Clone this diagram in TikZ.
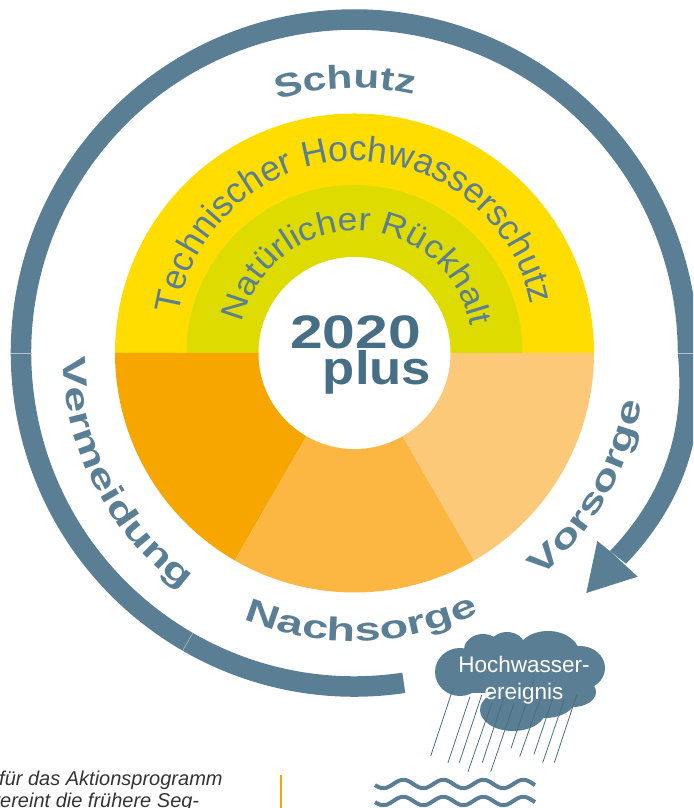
\documentclass[tikz,border=0pt]{standalone}
\usepackage{fontspec}
\setmainfont{Liberation Sans}
\newfontfamily\widefont[FakeStretch=1.42]{Liberation Sans}
\newfontfamily\schutzfont[FakeStretch=1.28]{Liberation Sans}
\newfontfamily\titlefont[FakeStretch=1.25]{Liberation Sans}
\newfontfamily\plusfont[FakeStretch=1.12]{Liberation Sans}
\newfontfamily\natfamily[FakeStretch=1.09]{Liberation Sans}
\usetikzlibrary{decorations.text}
\definecolor{ring}{HTML}{5A7F94}
\definecolor{deep}{HTML}{466F86}
\definecolor{sunyellow}{HTML}{FFDD00}
\definecolor{lime}{HTML}{DDDB00}
\definecolor{orangeA}{HTML}{F7A600}
\definecolor{orangeB}{HTML}{FBB741}
\definecolor{orangeC}{HTML}{FCC979}
\tikzset{
  arctext/.style={decorate,decoration={text along path,text color=ring,text align=center,text={#1}}},
  rainline/.style={draw=deep,line width=0.8pt},
  wave/.style={draw=ring,line width=4pt},
  seam/.style={draw=white!55!ring,line width=0.5pt},
  cloudblob/.style={fill=ring,draw=none}
}
\newcommand{\ringfont}{\widefont\bfseries\fontsize{33}{33}\selectfont}
\newcommand{\shfont}{\schutzfont\bfseries\fontsize{33}{33}\selectfont}
\newcommand{\techfont}{\fontsize{35.5}{35.5}\selectfont}
\newcommand{\natfont}{\natfamily\fontsize{32.5}{32.5}\selectfont}
\begin{document}
\begin{tikzpicture}[x=1pt,y=1pt]
\useasboundingbox (0,0) rectangle (693,808);
\clip (0,0) rectangle (693,808);
\begin{scope}[shift={(354.5,455)}]
  % sectors
  \fill[sunyellow] (-239.5,0) arc[start angle=180,end angle=0,radius=239.5] -- cycle;
  \fill[lime] (-168,0) arc[start angle=180,end angle=0,radius=168] -- cycle;
  \fill[orangeA] (0,0) -- (180:239.5) arc[start angle=180,end angle=240,radius=239.5] -- cycle;
  \fill[orangeB] (0,0) -- (240:239.5) arc[start angle=240,end angle=300,radius=239.5] -- cycle;
  \fill[orangeC] (0,0) -- (300:239.5) arc[start angle=300,end angle=360,radius=239.5] -- cycle;
  \fill[white] (0,0) circle[radius=96];
  % ring
  \draw[ring,line width=20.5pt] (278.5:333.5) arc[start angle=278.5,end angle=0,radius=333.5];
  \fill[ring] plot[domain=0:37.8,samples=40] ({-\x}:{343.75+7.3*sin(\x*180/37.8)})
     -- plot[domain=37.8:0,samples=40] ({-\x}:{323.25+7*sin(\x*180/37.8)}) -- cycle;
  \draw[seam] (0:323) -- (0:344);
  \draw[seam] (180:323) -- (180:344);
  \draw[seam] (240:323) -- (240:344);
  % curved labels
  \path[arctext={|\shfont|Schutz}] (132:265) arc[start angle=132,end angle=52,radius=265];
  \path[arctext={|\ringfont|Vermeidung}] (162.5:292) arc[start angle=162.5,end angle=252.5,radius=292];
  \path[arctext={|\ringfont|Nachsorge}] (231.5:288) arc[start angle=231.5,end angle=311.5,radius=288];
  \path[arctext={|\ringfont|Vorsorge}] (285:291) arc[start angle=285,end angle=375,radius=291];
  \begin{scope}[shift={(1,13)}]
    \path[arctext={|\techfont|Technischer Hochwasserschutz}] (182:179) arc[start angle=182,end angle=1,radius=179];
  \end{scope}
  \begin{scope}[shift={(1.5,6)}]
    \path[arctext={|\natfont|Natürlicher Rückhalt}] (184.5:116) arc[start angle=184.5,end angle=-6.5,radius=116];
  \end{scope}
\end{scope}
% arrow head
\fill[ring] (586.3,215) -- (597.3,267) -- (610.7,256.3) -- (625,243) -- (637.7,231.3) -- cycle;
% centre title
\node[text=deep,font=\titlefont\bfseries\fontsize{47}{47}\selectfont,inner sep=0pt,anchor=base] (title1) at (355.5,459) {2020};
\node[text=deep,font=\plusfont\bfseries\fontsize{47}{47}\selectfont,inner sep=0pt,anchor=base] (title2) at (377,423) {plus};
% cloud
\fill[cloudblob] (460,136) ellipse[x radius=25,y radius=24];
\fill[cloudblob] (483,158) ellipse[x radius=19,y radius=16];
\fill[cloudblob] (507,161) ellipse[x radius=18,y radius=15];
\fill[cloudblob] (548,153) ellipse[x radius=32,y radius=24];
\fill[cloudblob] (580,140) ellipse[x radius=25,y radius=22];
\fill[cloudblob] (573,116) ellipse[x radius=23,y radius=15];
\fill[cloudblob] (513,98) ellipse[x radius=33,y radius=21];
\fill[cloudblob] (545,108) ellipse[x radius=30,y radius=18];
\fill[cloudblob] (470,115) rectangle (575,150);
% rain
\draw[rainline] (453.3,120.3) -- (430.7,52);
\draw[rainline] (470,111.3) -- (448,45.3);
\draw[rainline] (481.7,113) -- (459.3,45.3);
\draw[rainline] (491.7,104.7) -- (468,36.3);
\draw[rainline] (504,111.3) -- (482.3,45.3);
\draw[rainline] (514,104.7) -- (490.7,36.3);
\draw[rainline] (534,128) -- (511,59.7);
\draw[rainline] (542.7,116.3) -- (519.7,51.3);
\draw[rainline] (556.7,121.3) -- (534,53.7);
\draw[rainline] (564,108) -- (542.7,45.3);
\draw[rainline] (576.7,113) -- (554.3,45.3);
% cloud text
\node[text=white,font=\fontsize{22.5}{22.5}\selectfont,inner sep=0pt,anchor=base] (cloud1) at (524,135) {Hochwasser-};
\node[text=white,font=\fontsize{22.5}{22.5}\selectfont,inner sep=0pt,anchor=base] (cloud2) at (524,108) {ereignis};
% waves
\draw[wave] plot[domain=375:535,samples=120] (\x,{24+4.2*cos(9*(\x-403.3))});
\draw[wave] plot[domain=375:535,samples=120] (\x,{7+4.2*cos(9*(\x-403.3))});
% bottom text
\node[font=\itshape\fontsize{20}{20}\selectfont,text=black!80,inner sep=0pt,anchor=base west] (body1) at (-1,23) {für das Aktionsprogramm};
\node[font=\itshape\fontsize{20}{20}\selectfont,text=black!80,inner sep=0pt,anchor=base west] (body2) at (-10,1) {vereint die frühere Seg-};
\draw[orangeA,line width=1.5pt] (281,33) -- (281,0);
\end{tikzpicture}
\end{document}
